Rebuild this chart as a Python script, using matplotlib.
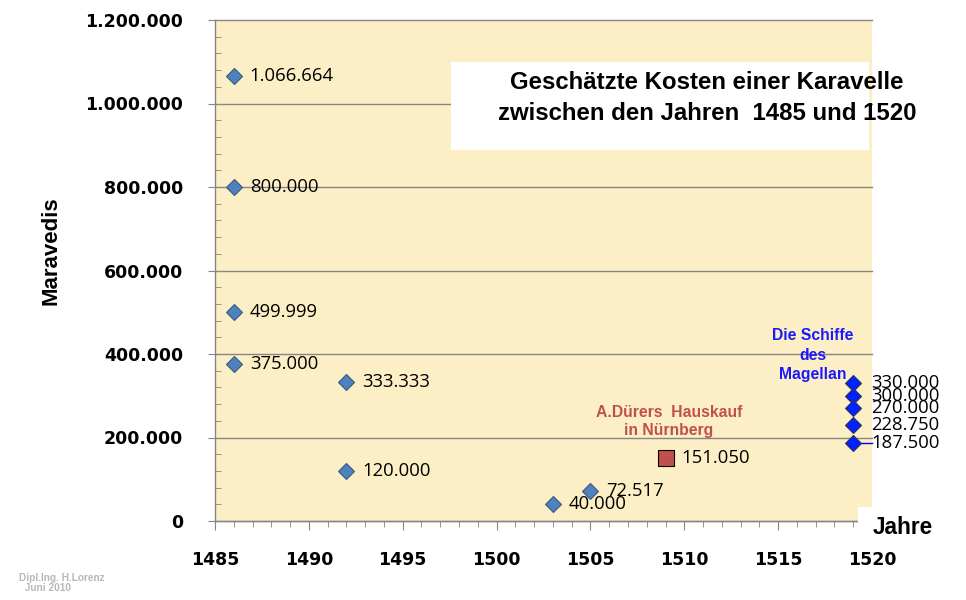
import matplotlib
matplotlib.use("Agg")
import matplotlib.pyplot as plt
from matplotlib.patches import Rectangle
from matplotlib.ticker import MultipleLocator, FuncFormatter

# Daten
jahre_blau = [1486, 1486, 1486, 1486, 1492, 1492, 1503, 1505]
kosten_blau = [1066664, 800000, 499999, 375000, 333333, 120000, 40000, 72517]

jahr_duerer = [1509]
kosten_duerer = [151050]

jahr_magellan = [1519, 1519, 1519, 1519, 1519]
kosten_magellan = [330000, 300000, 270000, 228750, 187500]

x_min, x_max = 1485, 1520
y_min, y_max = 0, 1200000

W, H = 966, 600
bg = "#FDEFC5"
achse = "#868686"


def punkte(v):
    return f"{int(v):,}".replace(",", ".")


fig = plt.figure(figsize=(W / 100, H / 100), dpi=100)
fig.patch.set_facecolor("white")
ax = fig.add_axes([215 / W, 1 - 521 / H, (872 - 215) / W, (521 - 20) / H])
ax.set_facecolor(bg)
ax.set_xlim(x_min, x_max)
ax.set_ylim(y_min, y_max)

for s in ["top", "right"]:
    ax.spines[s].set_visible(False)
for s in ["left", "bottom"]:
    ax.spines[s].set_color(achse)
    ax.spines[s].set_linewidth(1.0)

ax.yaxis.set_major_locator(MultipleLocator(200000))
ax.yaxis.set_minor_locator(MultipleLocator(40000))
ax.xaxis.set_major_locator(MultipleLocator(5))
ax.xaxis.set_minor_locator(MultipleLocator(1))
ax.yaxis.set_major_formatter(FuncFormatter(lambda v, p: punkte(v)))

ax.tick_params(axis="y", which="major", direction="out", length=5, color=achse,
               pad=18, labelsize=12.5)
ax.tick_params(axis="y", which="minor", direction="in", length=4.3, color=achse)
ax.tick_params(axis="x", which="major", direction="out", length=6.5, color=achse,
               pad=15, labelsize=12.5)
ax.tick_params(axis="x", which="minor", direction="out", length=4.3, color=achse)
for lab in ax.get_xticklabels() + ax.get_yticklabels():
    lab.set_fontweight("bold")

ax.grid(axis="y", which="major", color=achse, linewidth=1.0)
ax.set_axisbelow(True)
for gl in ax.get_ygridlines():
    gl.set_clip_on(False)

# Serien
ax.plot(jahre_blau, kosten_blau, linestyle="none", marker="D", markersize=8.6,
        markerfacecolor="#4F81BD", markeredgecolor="#3A5A80", markeredgewidth=0.8,
        zorder=3)
ax.plot(jahr_duerer, kosten_duerer, linestyle="none", marker="s", markersize=11.3,
        markerfacecolor="#C0504D", markeredgecolor="black", markeredgewidth=0.8,
        zorder=3)
ax.plot([jahr_magellan[-1], x_max], [kosten_magellan[-1]] * 2, color="#0000FF",
        linewidth=1.0, zorder=2, clip_on=False)
ax.plot(jahr_magellan, kosten_magellan, linestyle="none", marker="D", markersize=8.6,
        markerfacecolor="#0022FF", markeredgecolor="#33335A", markeredgewidth=0.8,
        zorder=3)

# Datenbeschriftungen
lab_font = dict(family="Open Sans", fontsize=13.3, color="black", va="center", ha="left")
for x, y in zip(jahre_blau, kosten_blau):
    ax.annotate(punkte(y), (x, y), xytext=(11.5, 0), textcoords="offset points",
                zorder=4, **lab_font)
for x, y in zip(jahr_duerer, kosten_duerer):
    ax.annotate(punkte(y), (x, y), xytext=(11.5, 0), textcoords="offset points",
                zorder=4, **lab_font)
for x, y in zip(jahr_magellan, kosten_magellan):
    ax.annotate(punkte(y), (x, y), xytext=(13, 0), textcoords="offset points",
                zorder=4, annotation_clip=False, **lab_font)

# Anmerkungen
ax.text(669 / W, 1 - 421.5 / H, "A.Dürers  Hauskauf\nin Nürnberg", transform=fig.transFigure,
        ha="center", va="center", fontsize=11.3, fontweight="bold",
        family="Liberation Sans", color="#C0504D", linespacing=1.3)
ax.text(813 / W, 1 - 355 / H, "Die Schiffe\ndes\nMagellan", transform=fig.transFigure,
        ha="center", va="center", fontsize=11.3, fontweight="bold",
        family="Liberation Sans", color="#1A1AFF", linespacing=1.38)

# Titelkasten
fig.add_artist(Rectangle((451 / W, 1 - 150 / H), (869 - 451) / W, (150 - 62) / H,
                         transform=fig.transFigure, facecolor="white",
                         edgecolor="none", zorder=5))
fig.text(707 / W, 1 - 98 / H,
         "Geschätzte Kosten einer Karavelle\nzwischen den Jahren  1485 und 1520",
         ha="center", va="center", fontsize=17.3, fontweight="bold",
         family="Liberation Sans", linespacing=1.45, zorder=6)

# Achsentitel
fig.add_artist(Rectangle((858 / W, 1 - 545 / H), (950 - 858) / W, (545 - 507) / H,
                         transform=fig.transFigure, facecolor="white",
                         edgecolor="none", zorder=5))
fig.text(903 / W, 1 - 527 / H, "Jahre", ha="center", va="center", fontsize=16.3,
         fontweight="bold", family="Liberation Sans", zorder=6)
fig.text(51 / W, 1 - 251 / H, "Maravedis", ha="center", va="center", rotation=90,
         fontsize=16, fontweight="bold", family="Liberation Sans")

# Fusszeile
fig.text(19 / W, 1 - 583 / H, "Dipl.Ing. H.Lorenz\n  Juni 2010", ha="left", va="center",
         fontsize=7.3, fontweight="bold", family="Liberation Sans", color="#B8B8B8",
         linespacing=1.0)

fig.savefig("out.png", dpi=100, facecolor="white")
